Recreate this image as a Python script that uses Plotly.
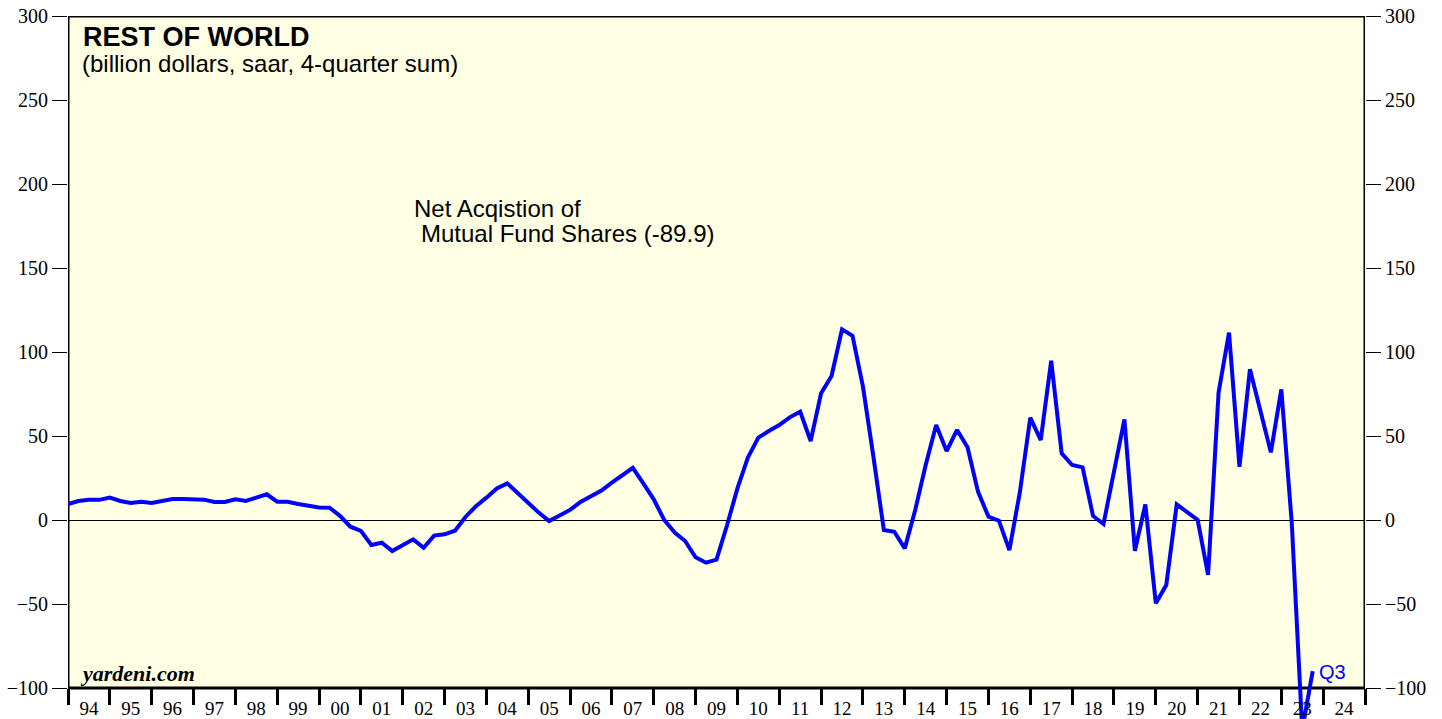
import plotly.graph_objects as go

# ---------------- data ----------------
# quarters plotted at end-of-quarter dates (1993Q4 .. 2023Q3)
quarters = [f"{y}Q{q}" for y in range(1993, 2024) for q in range(1, 5)][3:123]

net_acq_mutual_fund = [
    9.5, 11.3, 12.1, 12.0, 13.3, 11.3, 10.1, 10.9, 10.1, 11.5,
    12.5, 12.5, 12.3, 12.1, 10.7, 10.7, 12.3, 11.3, 13.3, 15.3,
    10.9, 10.9, 9.5, 8.5, 7.5, 7.3, 2.5, -4.0, -6.5, -14.9,
    -13.5, -18.5, -14.7, -11.5, -16.5, -9.3, -8.5, -6.4, 1.8, 8.2,
    13.3, 18.8, 21.8, 15.9, 10.7, 4.4, -0.6, 3.0, 6.0, 10.7,
    13.9, 17.5, 22.2, 26.6, 31.0, 21.8, 12.3, 0.0, -7.5, -12.5,
    -22.2, -25.4, -23.6, -3.3, 18.8, 37.2, 49.0, 53.0, 56.5, 61.1,
    64.5, 47.0, 75.4, 85.7, 113.5, 109.7, 79.4, 37.7, -6.0, -7.0,
    -16.9, 6.0, 32.7, 56.5, 41.0, 53.6, 43.3, 16.9, 2.0, -0.4,
    -17.9, 16.4, 60.9, 47.6, 94.8, 39.7, 32.7, 31.3, 2.4, -2.4,
    28.8, 59.9, -18.3, 9.3, -49.6, -38.7, 9.3, 4.9, 0.0, -32.7,
    75.8, 111.5, 31.7, 89.7, 65.0, 40.3, 77.8, -2.0, -125.0, -89.9,
]

year_ticks = list(range(1994, 2026))
year_labels = ["94", "95", "96", "97", "98", "99", "00", "01", "02", "03",
               "04", "05", "06", "07", "08", "09", "10", "11", "12", "13",
               "14", "15", "16", "17", "18", "19", "20", "21", "22", "23", "24"]
y_ticks = [-100, -50, 0, 50, 100, 150, 200, 250, 300]

# ---------------- layout geometry ----------------
W, H = 1442, 719
ML, MR, MT, MB = 68, 77, 16, 0
PW, PH = W - ML - MR, H - MT - MB
Y_TOP = 300
PX_PER_UNIT = (688 - 16) / 400.0
Y_MIN = Y_TOP - PH / PX_PER_UNIT

def px_x(px):
    return (px - ML) / PW

def px_y(py):
    return (H - MB - py) / PH

x_pos = [int(s[:4]) + int(s[5]) / 4.0 for s in quarters]

fig = go.Figure()
fig.add_trace(go.Scatter(
    x=x_pos, y=net_acq_mutual_fund, mode="lines",
    line=dict(color="#0000FF", width=4),
    hoverinfo="skip", showlegend=False,
))
# same series on the right-hand axis (invisible) so that axis is drawn
fig.add_trace(go.Scatter(
    x=x_pos, y=net_acq_mutual_fund, mode="lines", yaxis="y2",
    line=dict(color="rgba(0,0,0,0)", width=0), opacity=0,
    hoverinfo="skip", showlegend=False,
))

serif = "Liberation Serif"
sans = "Liberation Sans"

fig.update_layout(
    width=W, height=H,
    margin=dict(l=ML, r=MR, t=MT, b=MB, pad=0),
    paper_bgcolor="white", plot_bgcolor="white",
    showlegend=False,
    xaxis=dict(
        range=[1994, 2025], anchor="free",
        position=(-100 - Y_MIN) / (Y_TOP - Y_MIN),
        showline=False, showgrid=False, zeroline=False,
        tickmode="array",
        tickvals=[y + 0.5 for y in year_ticks[:-1]],
        ticktext=year_labels,
        ticks="outside", ticklen=3, tickcolor="rgba(0,0,0,0)",
        tickfont=dict(family=serif, size=19, color="black"),
        minor=dict(tickmode="array", tickvals=year_ticks, ticks="outside",
                   ticklen=16, tickwidth=3, tickcolor="black", showgrid=False),
        automargin=False, fixedrange=True,
    ),
    yaxis=dict(
        range=[Y_MIN, Y_TOP], tickmode="array", tickvals=y_ticks,
        ticks="outside", ticklen=15, tickwidth=1, tickcolor="black",
        showline=False, showgrid=False,
        zeroline=True, zerolinecolor="black", zerolinewidth=1,
        tickfont=dict(family=serif, size=20, color="black"),
        automargin=False, fixedrange=True,
    ),
    yaxis2=dict(
        range=[Y_MIN, Y_TOP], overlaying="y", side="right", anchor="x",
        tickmode="array", tickvals=y_ticks,
        ticks="outside", ticklen=15, tickwidth=1, tickcolor="black",
        showline=False, showgrid=False, zeroline=False,
        tickfont=dict(family=serif, size=20, color="black"),
        automargin=False, fixedrange=True,
    ),
    shapes=[dict(
        type="rect", xref="x", yref="y", x0=1994, x1=2025, y0=-100, y1=300,
        line=dict(color="black", width=3), fillcolor="#FFFFE3", layer="below",
    )],
)

annos = [
    dict(text="<b>REST OF WORLD</b>", x=px_x(81), y=px_y(37),
         font=dict(family=sans, size=27, color="black")),
    dict(text="(billion dollars, saar, 4-quarter sum)", x=px_x(80), y=px_y(63),
         font=dict(family=sans, size=24, color="black")),
    dict(text="Net Acqistion of", x=px_x(412), y=px_y(209),
         font=dict(family=sans, size=24, color="black")),
    dict(text="Mutual Fund Shares (-89.9)", x=px_x(419), y=px_y(233),
         font=dict(family=sans, size=24, color="black")),
    dict(text="Q3", x=px_x(1317), y=px_y(672),
         font=dict(family=sans, size=20, color="#0000FF")),
    dict(text="<b><i>yardeni.com</i></b>", x=px_x(78), y=px_y(673),
         font=dict(family=serif, size=22, color="black")),
]
for a in annos:
    fig.add_annotation(xref="paper", yref="paper", xanchor="left",
                       yanchor="middle", showarrow=False, **a)

fig.write_html("out.html", config={"displayModeBar": False, "staticPlot": True})

# remove the browser's default page margin so the figure sits at (0, 0)
with open("out.html", "r", encoding="utf-8") as f:
    page = f.read()
page = page.replace("<head>", "<head><style>html,body{margin:0;padding:0;overflow:hidden;}</style>", 1)
with open("out.html", "w", encoding="utf-8") as f:
    f.write(page)
